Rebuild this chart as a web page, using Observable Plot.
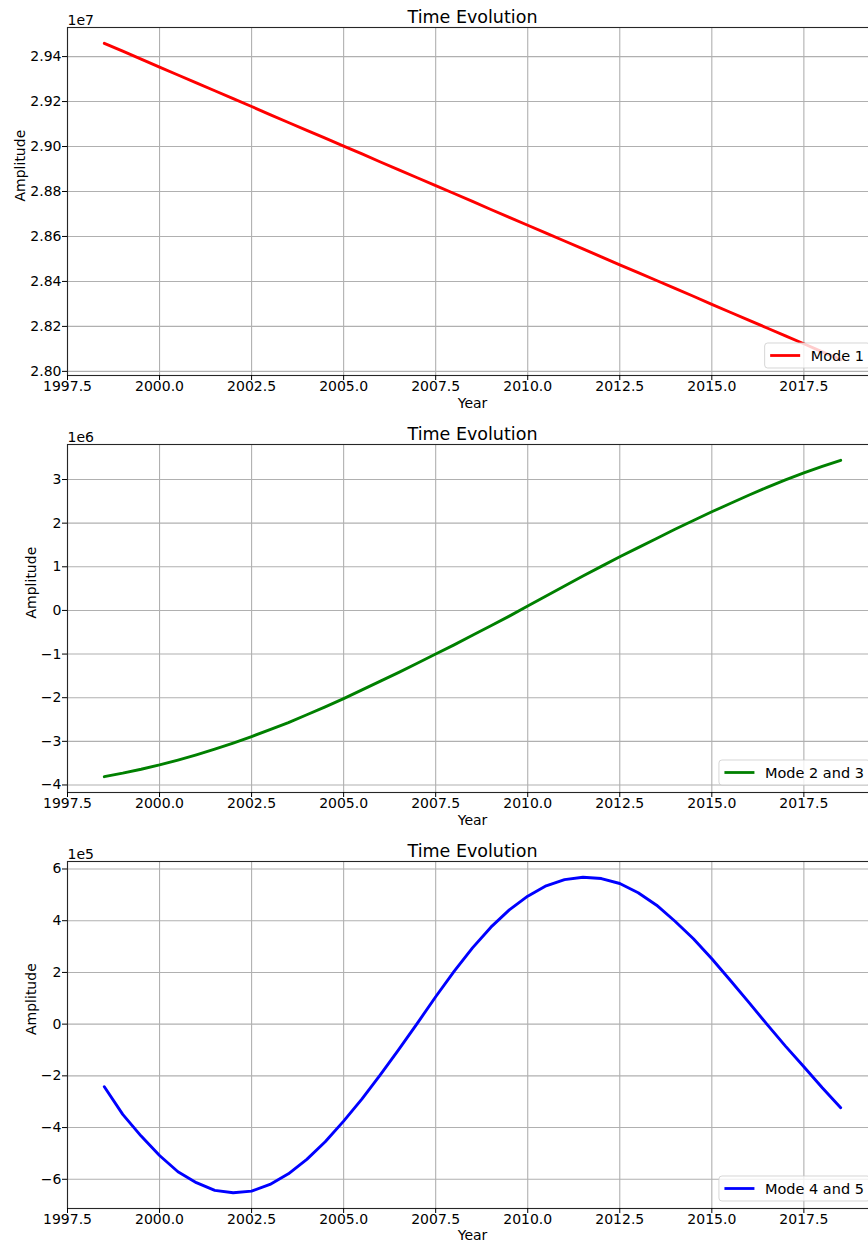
<!DOCTYPE html>
<html><head><meta charset="utf-8">
<script src="https://cdn.jsdelivr.net/npm/d3@7"></script>
<script src="https://cdn.jsdelivr.net/npm/@observablehq/plot@0.6"></script>
<style>
body{margin:0;background:#fff;}
#wrap{width:868px;height:1243px;overflow:hidden;position:relative;background:#fff;}
#wrap svg{display:block;max-width:none !important;}
</style></head><body><div id="wrap"></div>
<script>
const years = [1998.5, 1999, 1999.5, 2000, 2000.5, 2001, 2001.5, 2002, 2002.5, 2003, 2003.5,
  2004, 2004.5, 2005, 2005.5, 2006, 2006.5, 2007, 2007.5, 2008, 2008.5,
  2009, 2009.5, 2010, 2010.5, 2011, 2011.5, 2012, 2012.5, 2013, 2013.5,
  2014, 2014.5, 2015, 2015.5, 2016, 2016.5, 2017, 2017.5, 2018, 2018.5];

const mode1 = [2.9459e7, 2.9424e7, 2.9389e7, 2.9353e7, 2.9318e7, 2.9283e7, 2.9248e7, 2.9213e7, 2.9178e7, 2.9142e7, 2.9107e7,
  2.9072e7, 2.9037e7, 2.9002e7, 2.8967e7, 2.8931e7, 2.8896e7, 2.8861e7, 2.8826e7, 2.8791e7, 2.8756e7,
  2.8720e7, 2.8685e7, 2.8650e7, 2.8615e7, 2.8580e7, 2.8545e7, 2.8509e7, 2.8474e7, 2.8439e7, 2.8404e7,
  2.8369e7, 2.8334e7, 2.8298e7, 2.8263e7, 2.8228e7, 2.8193e7, 2.8158e7, 2.8123e7, 2.8087e7, 2.8052e7];

const mode23 = [-3.81e6, -3.73e6, -3.64e6, -3.54e6, -3.43e6, -3.31e6, -3.18e6, -3.04e6, -2.89e6, -2.73e6, -2.57e6,
  -2.39e6, -2.21e6, -2.02e6, -1.82e6, -1.62e6, -1.42e6, -1.21e6, -1.00e6, -0.79e6, -0.57e6,
  -0.35e6, -0.13e6, 0.10e6, 0.33e6, 0.56e6, 0.79e6, 1.01e6, 1.23e6, 1.44e6, 1.65e6,
  1.86e6, 2.06e6, 2.26e6, 2.45e6, 2.64e6, 2.82e6, 2.99e6, 3.15e6, 3.30e6, 3.44e6];

const mode45 = [-2.42e5, -3.49e5, -4.33e5, -5.08e5, -5.71e5, -6.13e5, -6.43e5, -6.52e5, -6.46e5, -6.20e5, -5.79e5,
  -5.23e5, -4.55e5, -3.75e5, -2.89e5, -1.95e5, -0.98e5, 0.03e5, 1.06e5, 2.04e5, 2.95e5,
  3.75e5, 4.42e5, 4.95e5, 5.35e5, 5.59e5, 5.68e5, 5.63e5, 5.44e5, 5.08e5, 4.60e5,
  3.98e5, 3.30e5, 2.53e5, 1.70e5, 0.85e5, -0.01e5, -0.85e5, -1.65e5, -2.46e5, -3.23e5];

const xTicks = [1997.5, 2000, 2002.5, 2005, 2007.5, 2010, 2012.5, 2015, 2017.5];
const yTicks1 = [2.80e7, 2.82e7, 2.84e7, 2.86e7, 2.88e7, 2.90e7, 2.92e7, 2.94e7];
const yTicks2 = [-4e6, -3e6, -2e6, -1e6, 0, 1e6, 2e6, 3e6];
const yTicks3 = [-6e5, -4e5, -2e5, 0, 2e5, 4e5, 6e5];

const titleText = "Time Evolution";
const xLabel = "Year";
const yLabel = "Amplitude";

const FONT = "DejaVu Sans";
const W = 880, ML = 67, MR = 3, MT = 27;

const canvas = document.createElement("canvas");
const ctx2d = canvas.getContext("2d");
function textWidth(s, size) { ctx2d.font = `${size}px "${FONT}"`; return ctx2d.measureText(s).width; }

function fmtTick(d, scale, digits) {
  const v = d / scale;
  const s = Math.abs(v).toFixed(digits);
  return (v < -1e-9 ? "\u2212" : "") + s;
}

function legendMark(label, color, H, MB) {
  return (index, scales, values, dims) => {
    const width = dims?.width ?? W, height = dims?.height ?? H;
    const mr = dims?.marginRight ?? MR, mb = dims?.marginBottom ?? MB;
    const fs = 14.5;
    const right = width - mr - 7, bottom = height - mb - 7;
    const tw = textWidth(label, fs);
    const padL = 5.5, handle = 30, gap = 10.5, padR = 6;
    const bw = padL + handle + gap + tw + padR, bh = 25;
    const left = right - bw, top = bottom - bh;
    const g = d3.create("svg:g");
    g.append("rect").attr("x", left).attr("y", top).attr("width", bw).attr("height", bh)
      .attr("rx", 3).attr("fill", "white").attr("fill-opacity", 0.8)
      .attr("stroke", "#cccccc").attr("stroke-opacity", 0.8).attr("stroke-width", 1);
    g.append("line").attr("x1", left + padL).attr("x2", left + padL + handle)
      .attr("y1", top + bh / 2).attr("y2", top + bh / 2)
      .attr("stroke", color).attr("stroke-width", 2.8);
    g.append("text").attr("x", left + padL + handle + gap).attr("y", top + bh / 2)
      .attr("dy", "0.35em").attr("font-size", fs).attr("text-anchor", "start")
      .attr("fill", "black").text(label);
    return g.node();
  };
}

function panel({values, color, label, yTicks, scale, exponent, digits, ampDx, height, marginBottom, yearDy}) {
  const data = years.map((t, i) => ({t, v: values[i]}));
  const [lo, hi] = d3.extent(values);
  const pad = (hi - lo) * 0.05;
  const [x0, x1] = d3.extent(years);
  const xp = (x1 - x0) * 0.05;
  const grid = {stroke: "#b0b0b0", strokeOpacity: 1, strokeWidth: 1.1};
  return Plot.plot({
    width: W, height, marginLeft: ML, marginRight: MR, marginTop: MT, marginBottom,
    style: {fontFamily: FONT, fontSize: "14px", color: "black", background: "white", overflow: "visible", maxWidth: "none"},
    x: {domain: [x0 - xp, x1 + xp]},
    y: {domain: [lo - pad, hi + pad]},
    marks: [
      Plot.gridX(xTicks, grid),
      Plot.gridY(yTicks, grid),
      Plot.line(data, {x: "t", y: "v", stroke: color, strokeWidth: 2.9}),
      Plot.frame({stroke: "#262626", strokeWidth: 1.1}),
      Plot.axisX(xTicks, {tickFormat: d => d.toFixed(1), tickSize: 5, tickPadding: 1, label: null, fontSize: 14}),
      Plot.axisY(yTicks, {tickFormat: d => fmtTick(d, scale, digits), tickSize: 5, tickPadding: 1, label: null, fontSize: 14}),
      Plot.text([titleText], {frameAnchor: "top", lineAnchor: "middle", dy: -10, fontSize: 17.5}),
      Plot.text([exponent], {frameAnchor: "top-left", lineAnchor: "middle", textAnchor: "start", dy: -7, fontSize: 14}),
      Plot.text([xLabel], {frameAnchor: "bottom", lineAnchor: "middle", dy: yearDy, fontSize: 14}),
      Plot.text([yLabel], {frameAnchor: "left", lineAnchor: "middle", dx: ampDx, rotate: -90, fontSize: 14}),
      legendMark(label, color, height, marginBottom)
    ]
  });
}

const wrap = document.getElementById("wrap");
wrap.append(panel({values: mode1, color: "red", label: "Mode 1", yTicks: yTicks1, scale: 1e7, exponent: "1e7", digits: 2, ampDx: -47, height: 417, marginBottom: 42, yearDy: 28}));
wrap.append(panel({values: mode23, color: "green", label: "Mode 2 and 3", yTicks: yTicks2, scale: 1e6, exponent: "1e6", digits: 0, ampDx: -36, height: 417, marginBottom: 42, yearDy: 28}));
wrap.append(panel({values: mode45, color: "blue", label: "Mode 4 and 5", yTicks: yTicks3, scale: 1e5, exponent: "1e5", digits: 0, ampDx: -36, height: 409, marginBottom: 35, yearDy: 27}));
</script></body></html>
